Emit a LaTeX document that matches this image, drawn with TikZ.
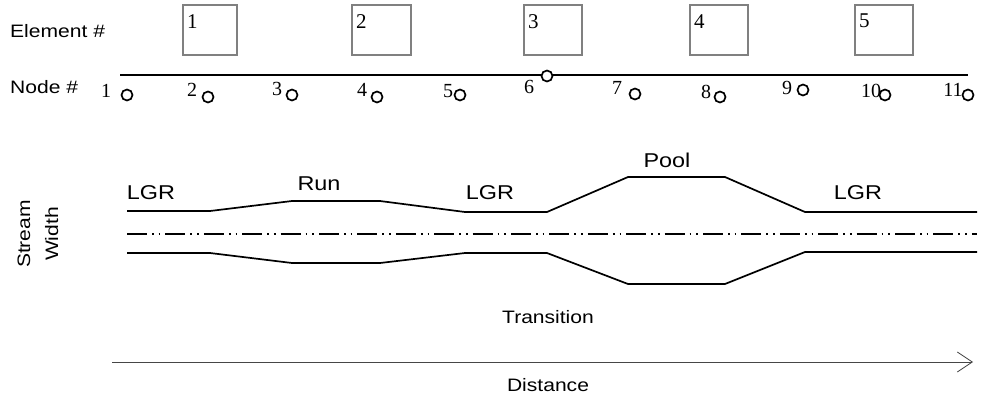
\documentclass[tikz,border=0pt]{standalone}
\usepackage{fontspec}
\setmainfont{Liberation Sans}[FakeStretch=1.17]
\newfontfamily\serif{Liberation Serif}
\usetikzlibrary{arrows.meta}
\definecolor{boxgray}{RGB}{128,128,128}
\definecolor{axisgray}{RGB}{70,70,70}
\begin{document}
\begin{tikzpicture}[x=1pt,y=-1pt,
  lbl/.style={font=\fontsize{18}{21}\selectfont, inner sep=0pt},
  big/.style={font=\fontsize{20}{24}\selectfont, inner sep=0pt},
  elembox/.style={draw=boxgray, line width=1.5pt, minimum height=50pt, inner sep=0pt},
  boxnum/.style={font=\serif\fontsize{21}{24}\selectfont, inner sep=0pt, anchor=north west},
  nodenum/.style={font=\serif\fontsize{20}{22}\selectfont, inner sep=0pt},
  ring/.style={circle, draw, line width=1.7pt, fill=white, minimum size=11pt, inner sep=0pt},
  bank/.style={line width=1.7pt, line join=miter},
  centre/.style={line width=1.7pt, dash pattern=on 20pt off 5pt on 1.7pt off 5pt on 1.7pt off 5pt}
]
\useasboundingbox (0,0) rectangle (982,400);

% left labels
\node[lbl, anchor=west] (elemlbl) at (10,31) {Element \#};
\node[lbl, anchor=west] (nodelbl) at (10,87) {Node \#};

% element boxes
\node[elembox, minimum width=54pt] (e1) at (210,30) {};
\node[elembox, minimum width=59pt] (e2) at (381.5,30) {};
\node[elembox, minimum width=58pt] (e3) at (553,30) {};
\node[elembox, minimum width=58pt] (e4) at (719,30) {};
\node[elembox, minimum width=58pt] (e5) at (884,30) {};
\node[boxnum] (e1n) at (187,14) {1};
\node[boxnum] (e2n) at (356,14) {2};
\node[boxnum] (e3n) at (528,14) {3};
\node[boxnum] (e4n) at (694,14) {4};
\node[boxnum] (e5n) at (859,14) {5};

% main line
\coordinate (la) at (120,75);
\coordinate (lb) at (968,75);
\draw[line width=2pt] (la) -- (lb);

% node circles
\node[ring] (n1) at (127,95) {};
\node[ring] (n2) at (208,97) {};
\node[ring] (n3) at (292,95) {};
\node[ring] (n4) at (377,97) {};
\node[ring] (n5) at (460,95) {};
\node[ring] (n6) at (547,76) {};
\node[ring] (n7) at (635,94) {};
\node[ring] (n8) at (720,97) {};
\node[ring] (n9) at (803,90) {};
\node[ring] (n10) at (885,95) {};
\node[ring] (n11) at (968,95) {};

% node numbers
\node[nodenum] (t1) at (106,91) {1};
\node[nodenum] (t2) at (192,90) {2};
\node[nodenum] (t3) at (277,89) {3};
\node[nodenum] (t4) at (362,90) {4};
\node[nodenum] (t5) at (448,91) {5};
\node[nodenum] (t6) at (529,87) {6};
\node[nodenum] (t7) at (617,88) {7};
\node[nodenum] (t8) at (706,92) {8};
\node[nodenum] (t9) at (787,88) {9};
\node[nodenum] (t10) at (871,91) {10};
\node[nodenum] (t11) at (953,90) {11};

% stream width label
\node[lbl, rotate=90, align=center, font=\fontsize{18}{28}\selectfont] (sw) at (38,234) {Stream\\Width};

% stream banks
\draw[bank] (127,211) -- (210,211) -- (292,201) -- (380,201) -- (465,212) -- (547,212)
  -- (628,177) -- (725,177) -- (805,212) -- (977,212);
\draw[bank] (127,253) -- (210,253) -- (292,263) -- (380,263) -- (465,253) -- (547,253)
  -- (628,284) -- (725,284) -- (805,252) -- (977,252);
\draw[centre] (127,234) -- (977,234);

% reach labels
\node[big] (lgr1) at (151,193) {LGR};
\node[big] (run) at (319,184) {Run};
\node[big] (lgr2) at (490,193) {LGR};
\node[big] (pool) at (667,160) {Pool};
\node[big] (lgr3) at (858,193) {LGR};

\node[lbl] (trans) at (548,317) {Transition};

% distance axis
\coordinate (da) at (112,362);
\coordinate (db) at (973,362);
\draw[axisgray, line width=1pt, -{Straight Barb[length=15pt, width=20pt, line width=0.8pt]}] (da) -- (db);
\node[lbl] (dist) at (548,385) {Distance};
\end{tikzpicture}
\end{document}
